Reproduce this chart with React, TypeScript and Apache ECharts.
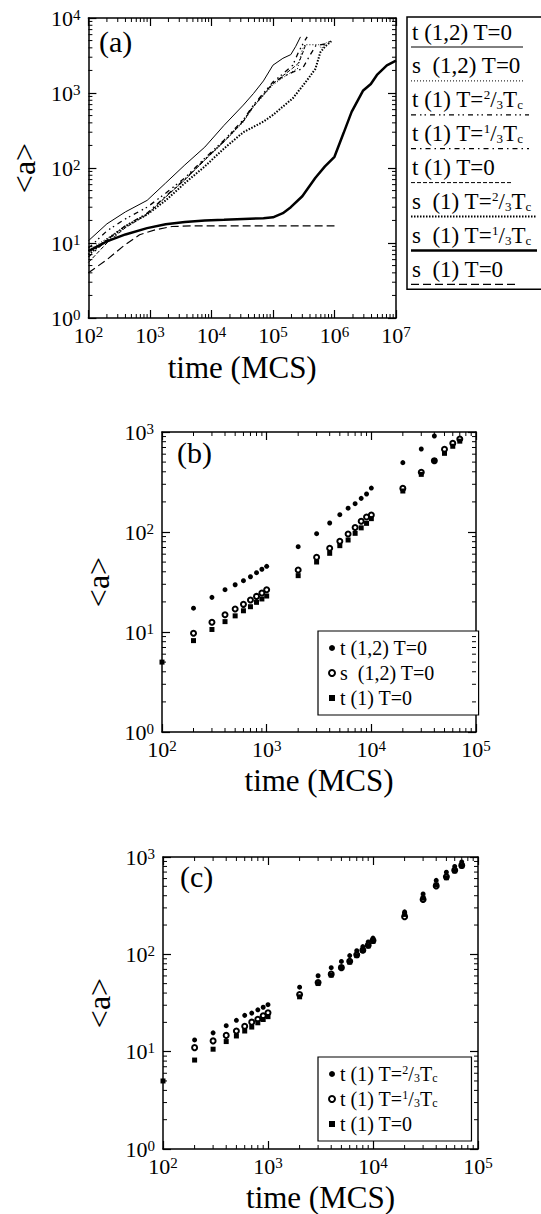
import React, { useEffect, useRef } from 'react';
import * as echarts from 'echarts';

const FONT = '"Liberation Serif", "Times New Roman", serif';

// ---------- Panel (a): [time (MCS), <a>] ----------
const A_T12_T0 = [[100,10.7],[200,18],[400,26],[900,37],[1800,63],[3700,110],[7800,190],[16000,370],[33000,690],[48000,980],[70000,1450],[100000,2350],[145000,2900],[195000,3250],[235000,4200],[280000,5600]];
const A_S12_T0 = [[100,8],[200,11.5],[400,17],[900,24.5],[1800,41],[3700,69],[7800,127],[16000,222],[33000,410],[48000,650],[100000,1280],[145000,1600],[210000,1950],[250000,2100],[300000,3800],[330000,4400],[560000,4400],[620000,3900],[750000,4800]];
const A_T1_T23 = [[100,8.5],[200,14.5],[400,21],[900,30],[1800,46],[3700,74],[7800,135],[16000,235],[33000,440],[48000,690],[100000,1400],[145000,1800],[210000,2350],[260000,3500],[320000,4800],[360000,5600]];
const A_T1_T13 = [[100,6.5],[200,11],[400,17],[900,25],[1800,42],[3700,71],[7800,130],[16000,228],[33000,425],[48000,670],[100000,1350],[145000,1650],[210000,1900],[300000,2100],[400000,3200],[500000,4300],[700000,4500],[900000,5000]];
const A_T1_T0 = [[100,5.5],[200,10],[400,16],[900,24],[1800,41],[3700,70],[7800,128],[16000,225],[33000,420],[48000,660],[100000,1330],[145000,1700],[210000,2150],[260000,2500],[300000,3300],[340000,4400]];
const A_S1_T23 = [[100,7],[200,11],[417,17],[900,24],[1800,37],[3700,63],[7800,105],[16000,182],[33000,300],[70000,415],[100000,510],[210000,850],[340000,1400],[490000,2100],[590000,3500],[710000,4200],[890000,4900]];
const A_S1_T13 = [[100,7.8],[200,10.5],[400,13],[900,15.8],[1800,17.8],[3700,19],[7800,20],[16000,20.4],[33000,20.9],[70000,21.4],[100000,22],[145000,25],[195000,30],[300000,42],[490000,74],[700000,105],[1000000,141],[1400000,290],[1900000,560],[2900000,1070],[3900000,1320],[4900000,1740],[7100000,2340],[10000000,2700]];
const A_S1_T0 = [[100,4],[200,6],[370,9.1],[680,12.9],[1260,15.1],[2300,16.6],[5000,16.9],[1000000,16.9]];

// ---------- Panels (b), (c) ----------
const TIMES_BC = [100,200,300,400,500,600,700,800,900,1000,2000,3000,4000,5000,6000,7000,8000,9000,10000,20000,30000,40000,50000,60000,70000];
const B_T12_T0 = [null,17.3,22.2,26.5,29.7,32.6,35.7,39.2,42.4,45.4,71.3,96.2,123,149,173,192,217,240,275,494,676,912,null,null,null];
const B_S12_T0 = [null,9.7,12.5,14.9,17.0,18.9,20.9,22.7,24.5,26.5,41.7,55.8,68.7,80.7,95.5,111,128,141,148,273,395,516,671,770,850];
const T1_T0 = [5,8.2,10.6,12.7,14.5,16.3,17.9,19.8,21.4,22.9,36.6,50.1,61.2,73.0,83.2,97,110,122,136,257,377,516,612,720,810];
const C_T1_T23 = [null,13.2,15.6,18.5,21.0,23.6,24.9,26.9,28.6,30.4,46.0,60.2,72.9,84.5,97,109,120,134,147,273,417,575,697,800,890];
const C_T1_T13 = [null,11.0,12.9,14.7,16.3,18.2,20.1,21.5,23.4,25.1,38.6,51.3,62.6,73,85,99,110,124,139,244,366,505,626,730,820];

const NAME_T12 = 't (1,2) T=0';
const NAME_S12 = 's  (1,2) T=0';
const NAME_T1_23 = 't (1) T=2/3Tc';
const NAME_T1_13 = 't (1) T=1/3Tc';
const NAME_T1_0 = 't (1) T=0';

const RICH_LEG = {
  n: { fontFamily: FONT, fontSize: 20, color: '#000' },
  sup: { fontFamily: FONT, fontSize: 12, color: '#000', verticalAlign: 'top' },
  sub: { fontFamily: FONT, fontSize: 12, color: '#000', verticalAlign: 'bottom' },
};

const richName = (name: string) => {
  if (name === NAME_T1_23) return '{n|t (1) T=}{sup|2}{n|/}{sub|3}{n|T}{sub|c}';
  if (name === NAME_T1_13) return '{n|t (1) T=}{sup|1}{n|/}{sub|3}{n|T}{sub|c}';
  return '{n|' + name + '}';
};

const GRIDS = [
  { left: 81, top: 18, width: 315, height: 300 },
  { left: 162, top: 432, width: 314, height: 300 },
  { left: 163, top: 857, width: 315, height: 300 },
];
const RANGES = [
  { xmin: 1e2, xmax: 1e7, ymin: 1, ymax: 1e4 },
  { xmin: 1e2, xmax: 1e5, ymin: 1, ymax: 1e3 },
  { xmin: 1e2, xmax: 1e5, ymin: 1, ymax: 1e3 },
];

const pow = (v: number) => '{b|10}{s|' + Math.round(Math.log10(v)) + '}';
const RICH_AX = {
  b: { fontFamily: FONT, fontSize: 22, color: '#000' },
  s: { fontFamily: FONT, fontSize: 15, color: '#000', verticalAlign: 'top' },
};

function minorVals(min: number, max: number) {
  const out: number[] = [];
  for (let e = Math.round(Math.log10(min)); e < Math.round(Math.log10(max)); e++) {
    for (let m = 2; m <= 9; m++) out.push(m * Math.pow(10, e));
  }
  return out;
}

function buildAxes() {
  const xAxis: any[] = [];
  const yAxis: any[] = [];
  GRIDS.forEach((g, gi) => {
    const r = RANGES[gi];
    const common = {
      type: 'log', logBase: 10, gridIndex: gi,
      axisLine: { show: true, onZero: false, lineStyle: { color: '#000', width: 1.5 } },
      axisTick: { inside: true, length: 8, lineStyle: { color: '#000', width: 1.2 } },
      splitLine: { show: false },
    };
    xAxis.push({
      ...common, min: r.xmin, max: r.xmax, position: 'bottom',
      axisLabel: { formatter: pow, rich: RICH_AX, margin: 6 },
      name: 'time (MCS)', nameLocation: 'middle', nameGap: gi === 0 ? 34 : 33,
      nameTextStyle: { fontFamily: FONT, fontSize: 31, color: '#000' },
    });
    xAxis.push({ ...common, min: r.xmin, max: r.xmax, position: 'top', axisLabel: { show: false } });
    yAxis.push({
      ...common, min: r.ymin, max: r.ymax, position: 'left',
      axisLabel: { formatter: pow, rich: RICH_AX, margin: 8 },
      name: '<a>', nameLocation: 'middle', nameGap: gi === 0 ? 46 : 44, nameRotate: 90,
      nameTextStyle: { fontFamily: FONT, fontSize: 32, color: '#000' },
    });
    yAxis.push({ ...common, min: r.ymin, max: r.ymax, position: 'right', axisLabel: { show: false } });
  });
  return { xAxis, yAxis };
}

function minorTickSeries(gi: number) {
  const r = RANGES[gi];
  const L = 4;
  const xs = {
    type: 'custom', xAxisIndex: 2 * gi, yAxisIndex: 2 * gi, silent: true, clip: false, z: 5,
    data: minorVals(r.xmin, r.xmax).map((v) => [v, r.ymin]),
    renderItem: (_p: any, api: any) => {
      const v = api.value(0);
      const a = api.coord([v, r.ymin]);
      const b = api.coord([v, r.ymax]);
      return {
        type: 'group', children: [
          { type: 'line', shape: { x1: a[0], y1: a[1], x2: a[0], y2: a[1] - L }, style: { stroke: '#000', lineWidth: 1 } },
          { type: 'line', shape: { x1: b[0], y1: b[1], x2: b[0], y2: b[1] + L }, style: { stroke: '#000', lineWidth: 1 } },
        ],
      };
    },
  };
  const ys = {
    type: 'custom', xAxisIndex: 2 * gi, yAxisIndex: 2 * gi, silent: true, clip: false, z: 5,
    data: minorVals(r.ymin, r.ymax).map((v) => [r.xmin, v]),
    renderItem: (_p: any, api: any) => {
      const v = api.value(1);
      const a = api.coord([r.xmin, v]);
      const b = api.coord([r.xmax, v]);
      return {
        type: 'group', children: [
          { type: 'line', shape: { x1: a[0], y1: a[1], x2: a[0] + L, y2: a[1] }, style: { stroke: '#000', lineWidth: 1 } },
          { type: 'line', shape: { x1: b[0], y1: b[1], x2: b[0] - L, y2: b[1] }, style: { stroke: '#000', lineWidth: 1 } },
        ],
      };
    },
  };
  return [xs, ys];
}

// line styles for panel (a)
const A_LINES = [
  { name: NAME_T12, data: A_T12_T0, width: 1, dash: 'solid' as any, legendLen: 112 },
  { name: NAME_S12, data: A_S12_T0, width: 1, dash: [1, 2], legendLen: 114 },
  { name: NAME_T1_23, data: A_T1_T23, width: 1.3, dash: [5, 4, 1.5, 3, 1.5, 4], legendLen: 118 },
  { name: NAME_T1_13, data: A_T1_T13, width: 1.3, dash: [5, 4, 1.5, 4], legendLen: 118 },
  { name: NAME_T1_0, data: A_T1_T0, width: 1, dash: [4, 2], legendLen: 100 },
  { name: 's  (1) T=2/3Tc', data: A_S1_T23, width: 2, dash: [1.5, 1.5], legendLen: 126 },
  { name: 's  (1) T=1/3Tc', data: A_S1_T13, width: 2.5, dash: 'solid' as any, legendLen: 126 },
  { name: 's  (1) T=0', data: A_S1_T0, width: 1.2, dash: [8, 4], legendLen: 108 },
];
const A_LEG_TEXT = [
  '{n|t (1,2) T=0}',
  '{n|s  (1,2) T=0}',
  '{n|t (1) T=}{sup|2}{n|/}{sub|3}{n|T}{sub|c}',
  '{n|t (1) T=}{sup|1}{n|/}{sub|3}{n|T}{sub|c}',
  '{n|t (1) T=0}',
  '{n|s  (1) T=}{sup|2}{n|/}{sub|3}{n|T}{sub|c}',
  '{n|s  (1) T=}{sup|1}{n|/}{sub|3}{n|T}{sub|c}',
  '{n|s  (1) T=0}',
];
const RICH_A = {
  n: { fontFamily: FONT, fontSize: 23, fill: '#000', color: '#000' },
  sup: { fontFamily: FONT, fontSize: 13, fill: '#000', color: '#000', verticalAlign: 'top' },
  sub: { fontFamily: FONT, fontSize: 13, fill: '#000', color: '#000', verticalAlign: 'bottom' },
};

const pairs = (vals: (number | null)[]) =>
  TIMES_BC.map((t, i) => [t, vals[i]]).filter((p) => p[1] != null);

export default function App() {
  const ref = useRef<HTMLDivElement>(null);
  useEffect(() => {
    document.body.style.margin = '0';
    const chart = echarts.init(ref.current!, null, { renderer: 'svg' });
    const { xAxis, yAxis } = buildAxes();

    const series: any[] = [];
    A_LINES.forEach((l) => {
      series.push({
        type: 'line', name: l.name, xAxisIndex: 0, yAxisIndex: 0, data: l.data,
        symbol: 'none', smooth: false, silent: true, clip: true, color: '#000',
        lineStyle: { color: '#000', width: l.width, type: l.dash },
      });
    });
    const scat = (name: string, gi: number, vals: (number | null)[], symbol: string, size: number) => ({
      type: 'scatter', name, xAxisIndex: 2 * gi, yAxisIndex: 2 * gi, data: pairs(vals),
      symbol, symbolSize: size, silent: true, clip: false, color: '#000',
      itemStyle: { color: '#000', borderColor: '#000', borderWidth: symbol === 'emptyCircle' ? 1 : 0, opacity: 1 },
    });
    series.push(scat(NAME_T12, 1, B_T12_T0, 'circle', 5));
    series.push(scat(NAME_S12, 1, B_S12_T0, 'emptyCircle', 5));
    series.push(scat(NAME_T1_0, 1, T1_T0, 'rect', 5));
    series.push(scat(NAME_T1_23, 2, C_T1_T23, 'circle', 5));
    series.push(scat(NAME_T1_13, 2, C_T1_T13, 'emptyCircle', 5));
    series.push(scat(NAME_T1_0, 2, T1_T0, 'rect', 5));
    [0, 1, 2].forEach((gi) => series.push(...minorTickSeries(gi)));

    const legendCommon = {
      orient: 'vertical', itemWidth: 6, itemHeight: 6, itemGap: 5,
      borderColor: '#000', borderWidth: 1.2, backgroundColor: '#fff',
      selectedMode: false,
      itemStyle: { color: '#000', borderColor: '#000', opacity: 1 },
      textStyle: { fontFamily: FONT, fontSize: 20, color: '#000', rich: RICH_LEG },
      formatter: richName,
    };

    const legendGraphics: any[] = [];
    const LX = 407, LY = 17, ROW = 33.9;
    legendGraphics.push({
      type: 'rect', shape: { x: LX, y: LY, width: 150, height: 8 * ROW + 1 },
      style: { fill: '#fff', stroke: '#000', lineWidth: 1.5 }, z: 10,
    });
    A_LINES.forEach((l, i) => {
      legendGraphics.push({
        type: 'text', x: 412, y: LY + ROW * i + 15, z: 11,
        style: { text: A_LEG_TEXT[i], rich: RICH_A, fontFamily: FONT, fontSize: 23, fill: '#000', verticalAlign: 'middle', align: 'left' },
      });
      legendGraphics.push({
        type: 'line', z: 11,
        shape: { x1: 411, y1: LY + ROW * i + 30, x2: 411 + l.legendLen, y2: LY + ROW * i + 30 },
        style: { stroke: '#000', lineWidth: l.width, lineDash: l.dash === 'solid' ? null : l.dash },
      });
    });
    const panelLabel = (t: string, x: number, y: number) => ({
      type: 'text', x, y, z: 11,
      style: { text: t, fontFamily: FONT, fontSize: 30, fill: '#000', verticalAlign: 'middle' },
    });

    chart.setOption({
      animation: false,
      backgroundColor: '#fff',
      color: ['#000'],
      grid: GRIDS.map((g) => ({ ...g, containLabel: false })),
      xAxis, yAxis, series,
      legend: [
        { ...legendCommon, left: 318, top: 631, padding: [7, 44, 7, 10], data: [{ name: NAME_T12, icon: 'circle' }, { name: NAME_S12, icon: 'emptyCircle' }, { name: NAME_T1_0, icon: 'rect' }] },
        { ...legendCommon, left: 318, top: 1057, padding: [7, 34, 7, 10], data: [{ name: NAME_T1_23, icon: 'circle' }, { name: NAME_T1_13, icon: 'emptyCircle' }, { name: NAME_T1_0, icon: 'rect' }] },
      ],
      graphic: [
        ...legendGraphics,
        panelLabel('(a)', 99, 41),
        panelLabel('(b)', 177, 452),
        panelLabel('(c)', 180, 876),
      ],
    });
    return () => chart.dispose();
  }, []);
  return <div ref={ref} style={{ width: 541, height: 1214 }} />;
}
